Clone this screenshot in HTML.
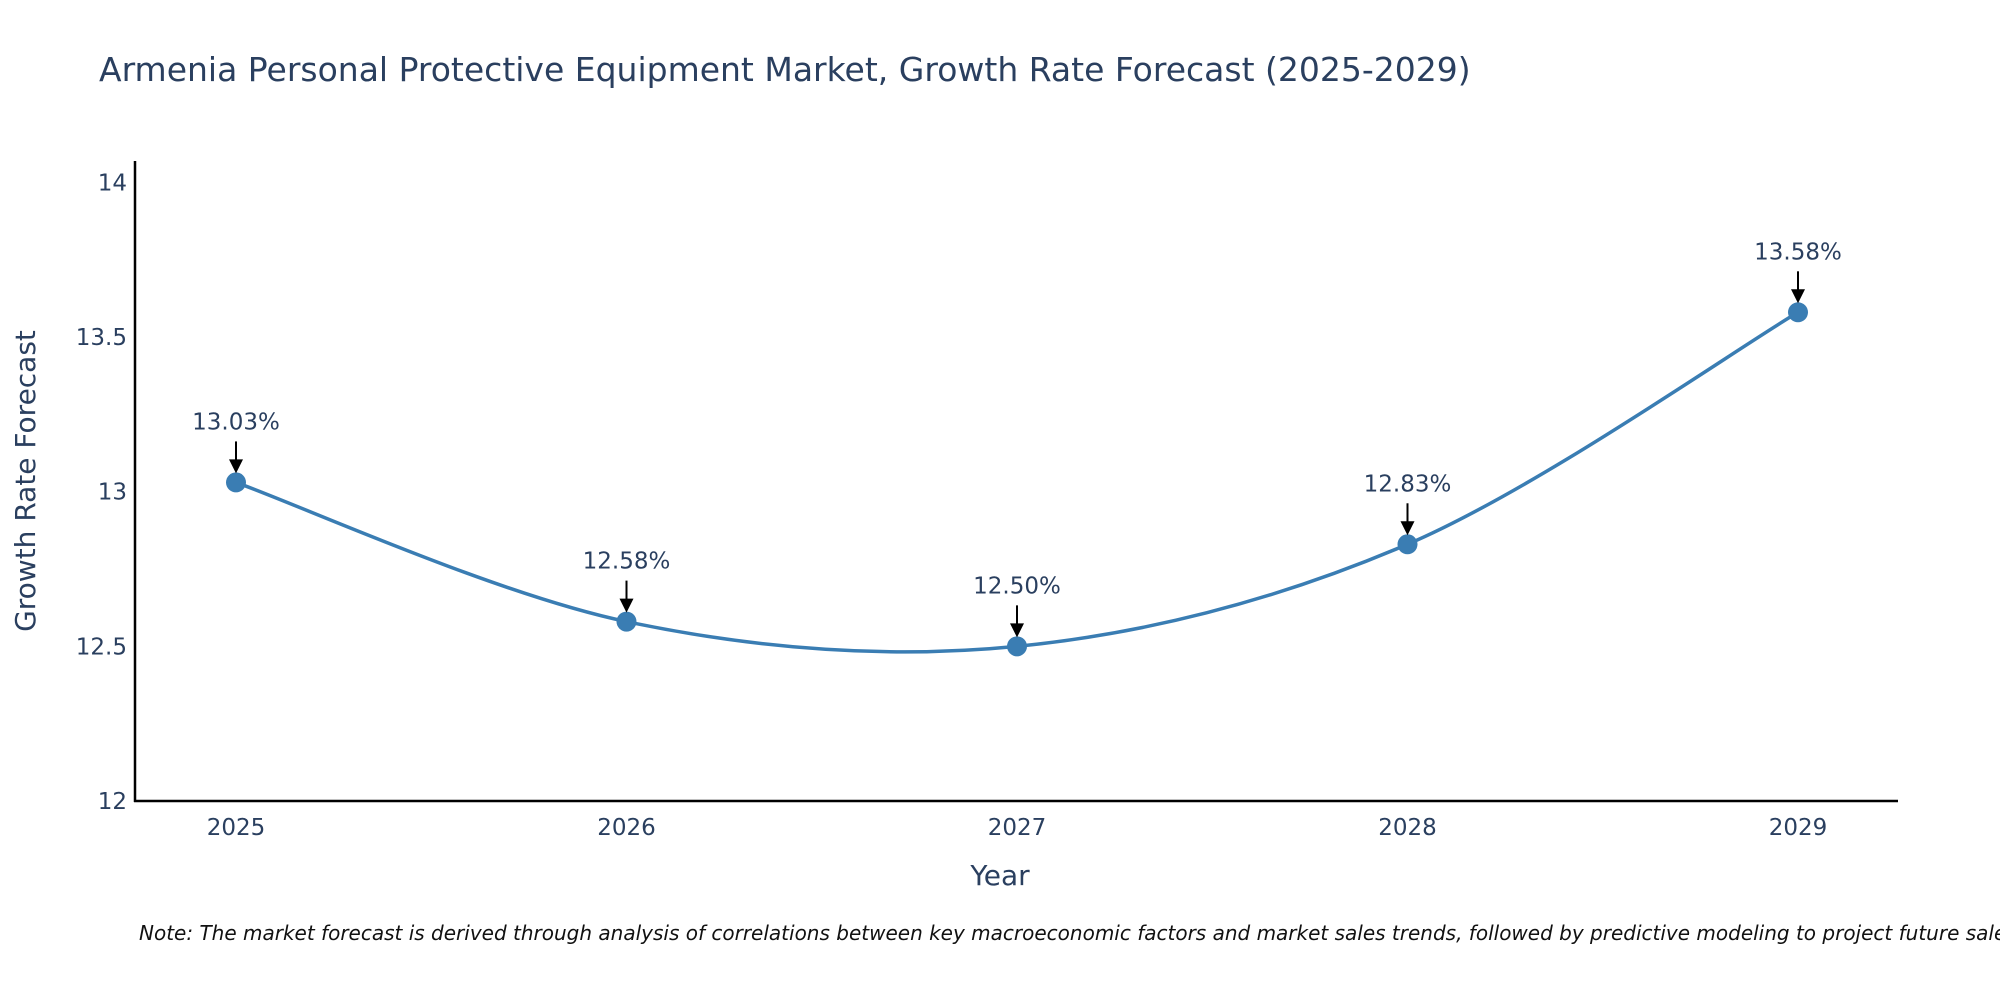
<!DOCTYPE html>
<html><head><meta charset="utf-8"><style>
body{margin:0;background:#fff;}
svg{display:block;font-family:"DejaVu Sans","Liberation Sans",sans-serif;}
</style></head><body>
<svg id="chart" width="2000" height="1000">
<text x="99" y="81" font-size="33" fill="#2a3f5f">Armenia Personal Protective Equipment Market, Growth Rate Forecast (2025-2029)</text>
<g id="axes"></g>
<g id="series"></g>
<text x="1000" y="885" font-size="28" fill="#2a3f5f" text-anchor="middle">Year</text>
<text transform="translate(35,481) rotate(-90)" font-size="28" fill="#2a3f5f" text-anchor="middle">Growth Rate Forecast</text>
<text x="139" y="940" font-size="20" font-style="italic" fill="#111">Note: The market forecast is derived through analysis of correlations between key macroeconomic factors and market sales trends, followed by predictive modeling to project future sales.</text>
</svg>
<script>
const years=[2025,2026,2027,2028,2029];
const values=[13.03,12.58,12.50,12.83,13.58];
const labels=["13.03%","12.58%","12.50%","12.83%","13.58%"];
const yTicks=[12,12.5,13,13.5,14];
const yTickLabels=["12","12.5","13","13.5","14"];
const NS="http://www.w3.org/2000/svg";
const X=v=>236+(v-2025)*(1798-236)/4;
const Y=v=>801-(v-12)*(801-182.4)/2;
function mk(t,a,p){const e=document.createElementNS(NS,t);for(const k in a)e.setAttribute(k,a[k]);p.appendChild(e);return e;}
const ax=document.getElementById('axes'),se=document.getElementById('series');
let l=mk('line',{x1:135,y1:161,x2:135,y2:802,stroke:'#000','stroke-width':2.5},ax);


l=mk('line',{x1:134,y1:801,x2:1898,y2:801,stroke:'#000','stroke-width':2.5},ax);


yTicks.forEach((v,i)=>{const t=mk('text',{x:127,y:Y(v)+8,'font-size':23,fill:'#2a3f5f','text-anchor':'end'},ax);t.textContent=yTickLabels[i];

});
years.forEach(v=>{const t=mk('text',{x:X(v),y:835,'font-size':23,fill:'#2a3f5f','text-anchor':'middle'},ax);t.textContent=v;

});
const pts=years.map((y,i)=>[X(y),Y(values[i])]);
let d='M'+pts[0][0]+','+pts[0][1];
for(let i=0;i<pts.length-1;i++){const p0=pts[Math.max(i-1,0)],p1=pts[i],p2=pts[i+1],p3=pts[Math.min(i+2,pts.length-1)];const s=6;
d+=` C${p1[0]+(p2[0]-p0[0])/s},${p1[1]+(p2[1]-p0[1])/s} ${p2[0]-(p3[0]-p1[0])/s},${p2[1]-(p3[1]-p1[1])/s} ${p2[0]},${p2[1]}`;}
const path=mk('path',{d:d,fill:'none',stroke:'#3a7db3','stroke-width':3.5},se);


pts.forEach((p,i)=>{const c=mk('circle',{cx:p[0],cy:p[1],r:10,fill:'#3a7db3'},se);


const a=mk('line',{x1:p[0],y1:p[1]-41,x2:p[0],y2:p[1]-22,stroke:'#000','stroke-width':2},se);


const h=mk('polygon',{points:`${p[0]-7},${p[1]-23} ${p[0]+7},${p[1]-23} ${p[0]},${p[1]-9}`,fill:'#000'},se);


const t=mk('text',{x:p[0],y:p[1]-53,'font-size':23,fill:'#2a3f5f','text-anchor':'middle'},se);t.textContent=labels[i];

});
</script>
</body></html>
